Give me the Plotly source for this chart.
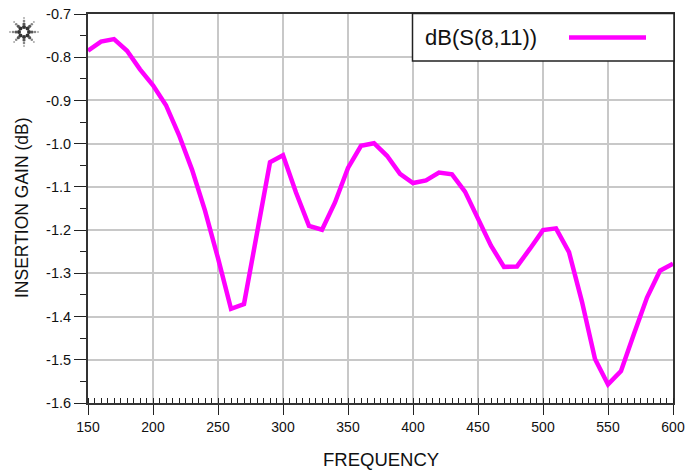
import plotly.graph_objects as go
import math

freq = [150, 160, 170, 180, 190, 200, 210, 220, 230, 240, 250, 260, 270, 280,
        290, 300, 310, 320, 330, 340, 350, 360, 370, 380, 390, 400, 410, 420,
        430, 440, 450, 460, 470, 480, 490, 500, 510, 520, 530, 540, 550, 560,
        570, 580, 590, 600]
gain = [-0.785, -0.764, -0.758, -0.785, -0.828, -0.865, -0.911, -0.980, -1.060,
        -1.155, -1.265, -1.382, -1.371, -1.207, -1.043, -1.027, -1.113, -1.190,
        -1.199, -1.136, -1.056, -1.005, -0.999, -1.028, -1.070, -1.091, -1.085,
        -1.067, -1.071, -1.111, -1.173, -1.236, -1.285, -1.284, -1.243, -1.200,
        -1.196, -1.251, -1.366, -1.498, -1.557, -1.526, -1.440, -1.356, -1.294,
        -1.278]
series_name = "dB(S(8,11))"
x_ticks = [150, 200, 250, 300, 350, 400, 450, 500, 550, 600]
y_ticks = [-1.6, -1.5, -1.4, -1.3, -1.2, -1.1, -1.0, -0.9, -0.8, -0.7]
y_tick_text = ["-1.6", "-1.5", "-1.4", "-1.3", "-1.2", "-1.1", "-1.0", "-0.9", "-0.8", "-0.7"]
x_title = "FREQUENCY"
y_title = "INSERTION GAIN (dB)"

W, H = 685, 471
ML, MR, MT, MB = 88, 12, 14, 68
PW, PH = W - ML - MR, H - MT - MB

def px(xp):
    return (xp - ML) / PW

def py(yp):
    return 1 - (yp - MT) / PH

fig = go.Figure()
fig.add_trace(go.Scatter(x=freq, y=gain, mode="lines", name=series_name,
                         line=dict(color="#ff00ff", width=4.5), showlegend=False))

font_family = "Liberation Sans, Arial, sans-serif"

shapes = []
# legend box
shapes.append(dict(type="rect", xref="paper", yref="paper",
                   x0=px(412.5), x1=px(674), y0=py(61), y1=py(13.5),
                   line=dict(color="#222222", width=1.5), fillcolor="white", layer="above"))
shapes.append(dict(type="line", xref="paper", yref="paper",
                   x0=px(569), x1=px(646), y0=py(37.5), y1=py(37.5),
                   line=dict(color="#ff00ff", width=4.5), layer="above"))

# logo: burst of dots
cx, cy = 24, 32
for k in range(8):
    ang = k * math.pi / 4
    for j, r in enumerate([5, 8, 11, 14]):
        rad = [2.0, 1.6, 1.3, 1.0][j]
        col = ["#333333", "#555555", "#888888", "#aaaaaa"][j]
        xx = cx + r * math.cos(ang)
        yy = cy + r * math.sin(ang)
        shapes.append(dict(type="circle", xref="paper", yref="paper",
                           x0=px(xx - rad), x1=px(xx + rad),
                           y0=py(yy + rad), y1=py(yy - rad),
                           line=dict(width=0), fillcolor=col, layer="above"))

annotations = [
    dict(text=series_name, xref="paper", yref="paper",
         x=px(423), y=py(38), xanchor="left", yanchor="middle",
         showarrow=False, font=dict(size=22, color="#111111", family=font_family)),
    dict(text=x_title, xref="paper", yref="paper",
         x=px(381), y=py(459), xanchor="center", yanchor="middle",
         showarrow=False, font=dict(size=18.5, color="#111111", family=font_family)),
    dict(text=y_title, xref="paper", yref="paper", textangle=-90,
         x=px(22), y=py(208), xanchor="center", yanchor="middle",
         showarrow=False, font=dict(size=17.5, color="#111111", family=font_family)),
]

fig.update_layout(
    width=W, height=H,
    margin=dict(l=ML, r=MR, t=MT, b=MB, autoexpand=False),
    paper_bgcolor="white", plot_bgcolor="white",
    font=dict(family=font_family, color="#111111", size=13),
    shapes=shapes,
    annotations=annotations,
    xaxis=dict(range=[150, 600], tickvals=x_ticks, ticks="outside", ticklen=10,
               tickwidth=1.2, tickcolor="#222222", automargin=False,
               showline=True, linecolor="#333333", linewidth=2, mirror=True,
               showgrid=True, gridcolor="#c8c8c8", gridwidth=1.5, zeroline=False,
               tickfont=dict(size=14),
               minor=dict(dtick=5, ticks="inside", ticklen=5, tickwidth=1,
                          tickcolor="#222222", showgrid=False)),
    yaxis=dict(range=[-1.6, -0.7], tickvals=y_ticks, ticktext=y_tick_text,
               ticks="outside", ticklen=12, tickwidth=1.2, tickcolor="#222222",
               automargin=False,
               showline=True, linecolor="#333333", linewidth=2, mirror=True,
               showgrid=True, gridcolor="#c8c8c8", gridwidth=1.5, zeroline=False,
               tickfont=dict(size=14.5),
               minor=dict(dtick=0.05, tick0=-0.75, ticks="outside", ticklen=6, tickwidth=1.2,
                          tickcolor="#222222", showgrid=False)),
)

fig.write_html("out.html")
